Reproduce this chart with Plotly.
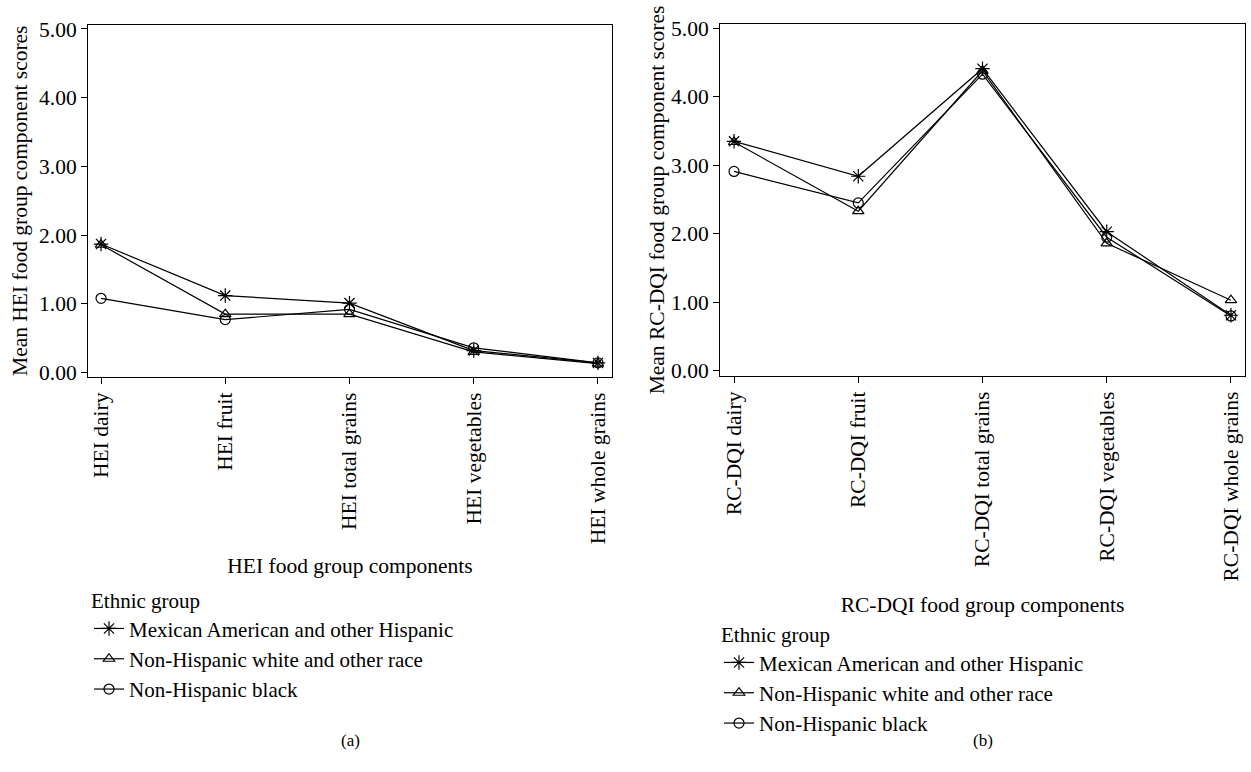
import plotly.graph_objects as go

# ---------------- data ----------------
hei_categories = ["HEI dairy", "HEI fruit", "HEI total grains", "HEI vegetables", "HEI whole grains"]
rcdqi_categories = ["RC-DQI dairy", "RC-DQI fruit", "RC-DQI total grains", "RC-DQI vegetables", "RC-DQI whole grains"]
groups = ["Mexican American and other Hispanic", "Non-Hispanic white and other race", "Non-Hispanic black"]

hei_mexican = [1.87, 1.12, 1.01, 0.32, 0.14]
hei_white = [1.86, 0.85, 0.85, 0.30, 0.13]
hei_black = [1.08, 0.77, 0.92, 0.36, 0.14]

rcdqi_mexican = [3.35, 2.84, 4.41, 2.03, 0.81]
rcdqi_white = [3.34, 2.33, 4.38, 1.86, 1.03]
rcdqi_black = [2.91, 2.45, 4.33, 1.95, 0.80]

y_tick_values = [0, 1, 2, 3, 4, 5]
y_tick_labels = ["0.00", "1.00", "2.00", "3.00", "4.00", "5.00"]

# ---------------- styling ----------------
FONT = "Liberation Serif, Times New Roman, serif"
FS = 21.5
LFS = 21
W, H = 1251, 772
symbols = ["asterisk-open", "triangle-up-open", "circle-open"]
sizes = [12, 10, 10]

fig = go.Figure()

hei_series = [hei_mexican, hei_white, hei_black]
rc_series = [rcdqi_mexican, rcdqi_white, rcdqi_black]

for name, vals, sym, sz in zip(groups, hei_series, symbols, sizes):
    fig.add_trace(go.Scatter(
        x=hei_categories, y=vals, name=name, mode="lines+markers",
        xaxis="x", yaxis="y", legend="legend",
        line=dict(color="black", width=1.2),
        marker=dict(symbol=sym, size=sz, color="black", line=dict(color="black", width=1.2)),
    ))

for name, vals, sym, sz in zip(groups, rc_series, symbols, sizes):
    fig.add_trace(go.Scatter(
        x=rcdqi_categories, y=vals, name=name, mode="lines+markers",
        xaxis="x2", yaxis="y2", legend="legend2",
        line=dict(color="black", width=1.2),
        marker=dict(symbol=sym, size=sz, color="black", line=dict(color="black", width=1.2)),
    ))

def px_x(p):
    return p / W

def px_y(p):
    return 1 - p / H

common_x = dict(
    type="category", showgrid=False, zeroline=False, showline=True, mirror=True,
    linecolor="black", linewidth=1, ticks="outside", ticklen=6, tickcolor="black",
    tickangle=-90, tickfont=dict(family=FONT, size=FS, color="black"), automargin=False,
)
common_y = dict(
    showgrid=False, zeroline=False, showline=True, mirror=True,
    linecolor="black", linewidth=1, ticks="outside", ticklen=6, tickcolor="black",
    tickvals=y_tick_values, ticktext=y_tick_labels,
    tickfont=dict(family=FONT, size=FS, color="black"), automargin=False,
)

fig.update_layout(
    width=W, height=H,
    margin=dict(l=0, r=0, t=0, b=0),
    paper_bgcolor="white", plot_bgcolor="white",
    font=dict(family=FONT, size=FS, color="black"),
    xaxis=dict(common_x, domain=[px_x(88), px_x(612)], range=[-0.105, 4.113], anchor="y",
               title=dict(text="HEI food group components", standoff=14,
                          font=dict(family=FONT, size=FS))),
    yaxis=dict(common_y, domain=[px_y(377), px_y(24.5)], range=[-0.065, 5.065], anchor="x",
               title=dict(text="Mean HEI food group component scores", standoff=5,
                          font=dict(family=FONT, size=FS))),
    xaxis2=dict(common_x, domain=[px_x(720), px_x(1245)], range=[-0.113, 4.113], anchor="y2",
                title=dict(text="RC-DQI food group components", standoff=16,
                           font=dict(family=FONT, size=FS))),
    yaxis2=dict(common_y, domain=[px_y(376), px_y(24)], range=[-0.077, 5.063], anchor="x2",
                title=dict(text="Mean RC-DQI food group component scores", standoff=0,
                           font=dict(family=FONT, size=FS))),
    legend=dict(x=px_x(89), y=px_y(581), xanchor="left", yanchor="top",
                title=dict(text="Ethnic group", font=dict(family=FONT, size=LFS)),
                font=dict(family=FONT, size=LFS), bgcolor="rgba(0,0,0,0)",
                tracegroupgap=0, itemwidth=30),
    legend2=dict(x=px_x(719), y=px_y(615), xanchor="left", yanchor="top",
                 title=dict(text="Ethnic group", font=dict(family=FONT, size=LFS)),
                 font=dict(family=FONT, size=LFS), bgcolor="rgba(0,0,0,0)",
                 tracegroupgap=0, itemwidth=30),
    annotations=[
        dict(text="(a)", x=px_x(350), y=px_y(740), xref="paper", yref="paper",
             xanchor="center", yanchor="middle",
             showarrow=False, font=dict(family=FONT, size=17)),
        dict(text="(b)", x=px_x(983), y=px_y(740), xref="paper", yref="paper",
             xanchor="center", yanchor="middle",
             showarrow=False, font=dict(family=FONT, size=17)),
    ],
    showlegend=True,
)

fig.write_html(
    "out.html",
    config={"displayModeBar": False},
    post_script="document.body.style.margin='0px';document.body.style.overflow='hidden';",
)
